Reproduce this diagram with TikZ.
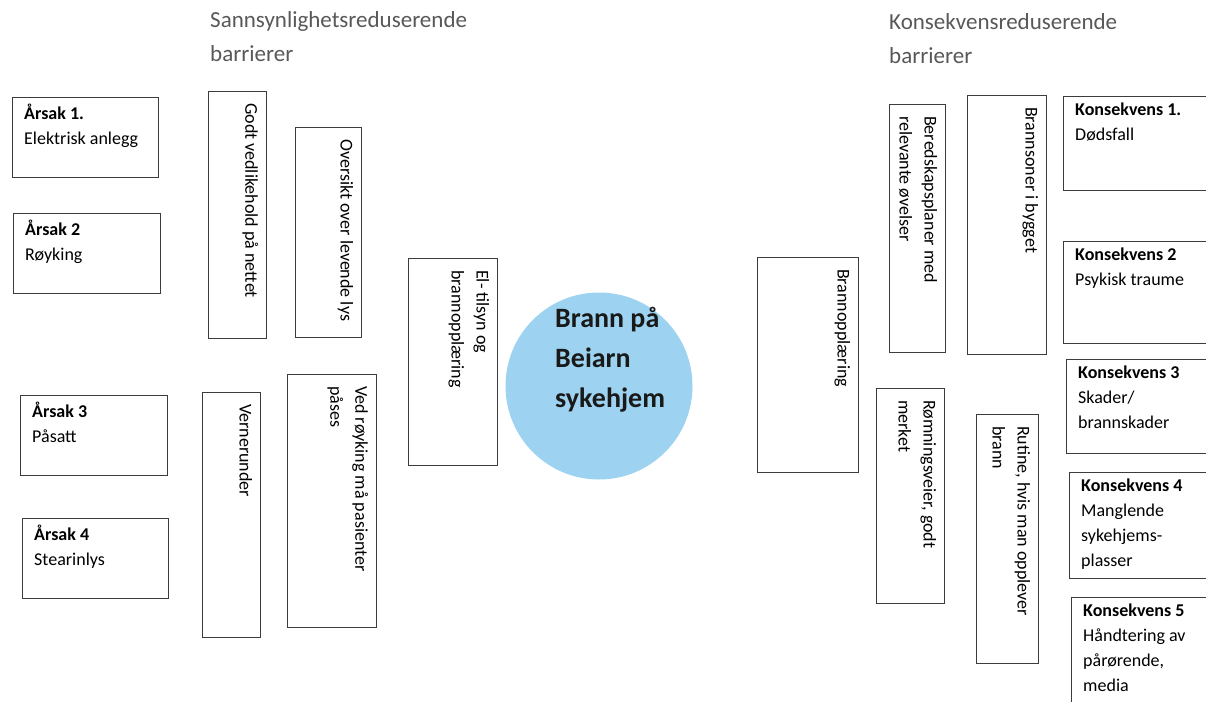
\documentclass[tikz,border=0pt]{standalone}
\usepackage{fontspec}
\setmainfont{Carlito}
\definecolor{circfill}{RGB}{157,211,240}
\definecolor{headgray}{RGB}{88,88,88}
\definecolor{linegray}{RGB}{60,60,60}
\tikzset{
  box/.style={draw=linegray, line width=1.4pt, fill=white, inner sep=0pt, anchor=north west},
  htext/.style={anchor=north west, inner sep=0pt, align=left, font=\fontsize{18}{25}\selectfont, text=black},
  vtext/.style={anchor=north west, inner sep=0pt, align=left, rotate=-90, font=\fontsize{18}{25}\selectfont, text=black},
  head/.style={anchor=north west, inner sep=0pt, align=left, font=\fontsize{23}{34}\selectfont, text=headgray},
}
\newcommand{\bx}[5]{\node[box, minimum width=#4-#2, minimum height=#5-#3] (#1) at (#2,#3) {};}
\begin{document}
\begin{tikzpicture}[x=1pt,y=-1pt]
\useasboundingbox (0,0) rectangle (1206,701);
\clip (0,0) rectangle (1206,701);
% headers
\node[head] (h1) at (210,11) {Sannsynlighetsreduserende\\barrierer};
\node[head] (h2) at (889,13) {Konsekvensreduserende\\barrierer};
% causes
\bx{a1}{12}{97}{158}{177}
\bx{a2}{13}{213}{160}{293}
\bx{a3}{20}{395}{167}{475}
\bx{a4}{22}{518}{168}{598}
\node[htext] (ta1) at ([shift={(12,7)}]a1.north west) {\textbf{Årsak 1.}\\Elektrisk anlegg};
\node[htext] (ta2) at ([shift={(12,7)}]a2.north west) {\textbf{Årsak 2}\\Røyking};
\node[htext] (ta3) at ([shift={(12,7)}]a3.north west) {\textbf{Årsak 3}\\Påsatt};
\node[htext] (ta4) at ([shift={(12,7)}]a4.north west) {\textbf{Årsak 4}\\Stearinlys};
% probability barriers
\bx{b1}{208}{91}{266}{338}
\bx{b2}{295}{127}{361}{337}
\bx{b3}{202}{392}{260}{637}
\bx{b4}{287}{374}{376}{627}
\bx{b5}{408}{258}{497}{465}
\node[vtext] (tb1) at ([shift={(-9,12)}]b1.north east) {Godt vedlikehold på nettet};
\node[vtext] (tb2) at ([shift={(-9,12)}]b2.north east) {Oversikt over levende lys};
\node[vtext] (tb3) at ([shift={(-9,12)}]b3.north east) {Vernerunder};
\node[vtext] (tb4) at ([shift={(-9,12)}]b4.north east) {Ved røyking må pasienter\\påses};
\node[vtext] (tb5) at ([shift={(-9,12)}]b5.north east) {El- tilsyn og\\brannopplæring};
% centre
\node[circle, fill=circfill, minimum size=187pt, inner sep=0pt] (c) at (599,386) {};
\node[anchor=west, align=left, inner sep=0pt, font=\fontsize{28}{40}\selectfont\bfseries, text=black!90] (ct) at (555,360) {Brann på\\Beiarn\\sykehjem};
% consequence barriers
\bx{k1}{757}{257}{858}{472}
\bx{k2}{889}{104}{945}{352}
\bx{k3}{967}{95}{1046}{354}
\bx{k4}{876}{388}{944}{603}
\bx{k5}{976}{414}{1038}{663}
\node[vtext] (tk1) at ([shift={(-9,12)}]k1.north east) {Brannopplæring};
\node[vtext] (tk2) at ([shift={(-9,12)}]k2.north east) {Beredskapsplaner med\\relevante øvelser};
\node[vtext] (tk3) at ([shift={(-9,12)}]k3.north east) {Brannsoner i bygget};
\node[vtext] (tk4) at ([shift={(-9,12)}]k4.north east) {Rømningsveier, godt\\merket};
\node[vtext] (tk5) at ([shift={(-9,12)}]k5.north east) {Rutine, hvis man opplever\\brann};
% consequences
\bx{q1}{1063}{96}{1215}{190}
\bx{q2}{1063}{241}{1215}{343}
\bx{q3}{1066}{359}{1215}{453}
\bx{q4}{1069}{472}{1215}{578}
\bx{q5}{1071}{597}{1215}{720}
\node[htext] (tq1) at ([shift={(12,7)}]q1.north west) {\textbf{Konsekvens 1.}\\Dødsfall};
\node[htext] (tq2) at ([shift={(12,7)}]q2.north west) {\textbf{Konsekvens 2}\\Psykisk traume};
\node[htext] (tq3) at ([shift={(12,7)}]q3.north west) {\textbf{Konsekvens 3}\\Skader/\\brannskader};
\node[htext] (tq4) at ([shift={(12,7)}]q4.north west) {\textbf{Konsekvens 4}\\Manglende\\sykehjems-\\plasser};
\node[htext] (tq5) at ([shift={(12,7)}]q5.north west) {\textbf{Konsekvens 5}\\Håndtering av\\pårørende,\\media};
\end{tikzpicture}
\end{document}
